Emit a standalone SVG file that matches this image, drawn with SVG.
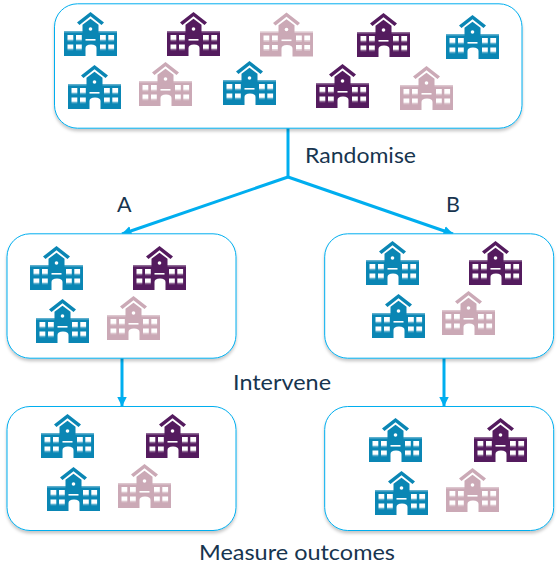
<svg xmlns="http://www.w3.org/2000/svg" width="560" height="582" viewBox="0 0 560 582">
  <style>
    .box { fill: #ffffff; stroke: #00aeef; stroke-width: 1; filter: url(#shadow); }
    .conn { fill: none; stroke: #00aeef; stroke-width: 3; }
    .lab { font-family: "Lato", "Liberation Sans", sans-serif; font-size: 21.5px; fill: #17354f; }
    .blue { color: #0a86b4; }
    .purple { color: #541b5e; }
    .pink { color: #cba9b6; }
    .win { fill: #ffffff; }
    .winl { fill: #ffffff; opacity: 0.35; }
  </style>
  <defs>
    <filter id="shadow" x="-5%" y="-5%" width="110%" height="115%">
      <feDropShadow dx="0" dy="2.5" stdDeviation="1.8" flood-color="#000000" flood-opacity="0.22"/>
    </filter>
    <marker id="arrow" markerUnits="userSpaceOnUse" markerWidth="11" markerHeight="10" refX="9.500" refY="5" orient="auto">
      <path d="M0 0 L10 5 L0 10 Z" fill="#00aeef"/>
    </marker>
    <g id="school" fill="currentColor">
      <path d="M13 10.500 L26.500 0 L40 10.500 L37.500 13 L26.500 4.300 L15.500 13 Z"/>
      <path d="M18.500 19 V12.800 L26.500 6.800 L34.500 12.800 V19 H53 V44 H32.500 V36 Q32.500 32.500 27 32.500 Q21.500 32.500 21.500 36 V44 H0 V19 Z"/>
      <rect x="0" y="19" width="18.500" height="1.500" class="winl"/>
      <rect x="34.500" y="19" width="18.500" height="1.500" class="winl"/>
      <circle cx="26.500" cy="17" r="1.800" class="win"/>
      <rect x="21.500" y="27" width="10" height="1.600" class="win"/>
      <g class="win">
        <rect x="3.500" y="23" width="5.800" height="4.800"/><rect x="12" y="23" width="5.800" height="4.800"/>
        <rect x="3.500" y="32.500" width="5.800" height="4.300"/><rect x="12" y="32.500" width="5.800" height="4.300"/>
        <rect x="36" y="23" width="5.800" height="4.800"/><rect x="44.300" y="23" width="5.800" height="4.800"/>
        <rect x="36" y="32.500" width="5.800" height="4.300"/><rect x="44.300" y="32.500" width="5.800" height="4.300"/>
      </g>
      <g class="winl">
        <rect x="3.500" y="27.800" width="5.800" height="1.500"/><rect x="12" y="27.800" width="5.800" height="1.500"/>
        <rect x="3.500" y="36.800" width="5.800" height="1.500"/><rect x="12" y="36.800" width="5.800" height="1.500"/>
        <rect x="36" y="27.800" width="5.800" height="1.500"/><rect x="44.300" y="27.800" width="5.800" height="1.500"/>
        <rect x="36" y="36.800" width="5.800" height="1.500"/><rect x="44.300" y="36.800" width="5.800" height="1.500"/>
      </g>
    </g>
  </defs>

  <g id="connectors">
    <path class="conn" d="M288 128 V177"/>
    <path class="conn" d="M288 177 L122 234" marker-end="url(#arrow)"/>
    <path class="conn" d="M288 177 L453 234" marker-end="url(#arrow)"/>
    <path class="conn" d="M122 358 V406" marker-end="url(#arrow)"/>
    <path class="conn" d="M444 358 V406" marker-end="url(#arrow)"/>
  </g>

  <g id="node-all">
    <rect class="box" x="54.500" y="3.800" width="467.500" height="124.400" rx="23"/>
    <use href="#school" class="blue" x="64" y="12"/>
    <use href="#school" class="purple" x="167" y="12"/>
    <use href="#school" class="pink" x="260" y="12.500"/>
    <use href="#school" class="purple" x="357" y="13"/>
    <use href="#school" class="blue" x="446" y="15"/>
    <use href="#school" class="blue" x="68" y="65"/>
    <use href="#school" class="pink" x="139" y="62"/>
    <use href="#school" class="blue" x="223" y="61"/>
    <use href="#school" class="purple" x="316" y="64"/>
    <use href="#school" class="pink" x="400" y="66"/>
  </g>

  <g id="node-a-before">
    <rect class="box" x="7" y="233.800" width="229" height="124.400" rx="23"/>
    <use href="#school" class="blue" x="30" y="246"/>
    <use href="#school" class="purple" x="133" y="246"/>
    <use href="#school" class="blue" x="36" y="299"/>
    <use href="#school" class="pink" x="107" y="296"/>
  </g>

  <g id="node-b-before">
    <rect class="box" x="324.700" y="233.800" width="229" height="124.400" rx="23"/>
    <use href="#school" class="blue" x="366" y="241"/>
    <use href="#school" class="purple" x="469" y="241"/>
    <use href="#school" class="blue" x="372" y="294"/>
    <use href="#school" class="pink" x="442" y="291"/>
  </g>

  <g id="node-a-after">
    <rect class="box" x="7" y="406.500" width="229" height="124" rx="23"/>
    <use href="#school" class="blue" x="41" y="414"/>
    <use href="#school" class="purple" x="146" y="414"/>
    <use href="#school" class="blue" x="47" y="467"/>
    <use href="#school" class="pink" x="118" y="464"/>
  </g>

  <g id="node-b-after">
    <rect class="box" x="324.700" y="406.500" width="229" height="124" rx="23"/>
    <use href="#school" class="blue" x="369" y="418"/>
    <use href="#school" class="purple" x="474" y="418"/>
    <use href="#school" class="blue" x="375" y="471"/>
    <use href="#school" class="pink" x="446" y="468"/>
  </g>

  <g id="labels">
    <text class="lab" x="305" y="163" textLength="111" lengthAdjust="spacingAndGlyphs">Randomise</text>
    <text class="lab" x="117" y="212">A</text>
    <text class="lab" x="446" y="212">B</text>
    <text class="lab" x="233" y="390" textLength="98" lengthAdjust="spacingAndGlyphs">Intervene</text>
    <text class="lab" x="199" y="560" textLength="196" lengthAdjust="spacingAndGlyphs">Measure outcomes</text>
  </g>
</svg>
